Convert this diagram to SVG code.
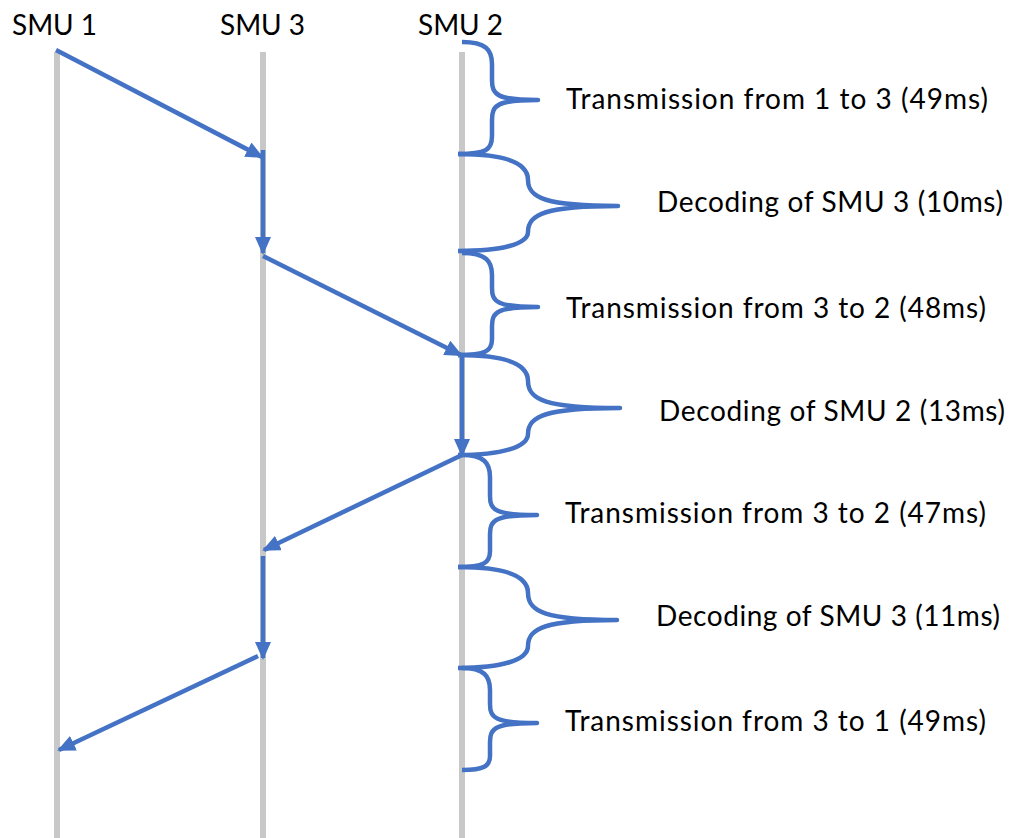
<svg xmlns="http://www.w3.org/2000/svg" width="1011" height="838" viewBox="0 0 1011 838">
<style>
.life{stroke:#c8c8c8;stroke-width:6;fill:none}
.msg{stroke:#4472c4;stroke-width:4.5;fill:none;marker-end:url(#ah)}
.brace{stroke:#4472c4;stroke-width:4.5;fill:none;stroke-linejoin:round}
text{font-family:Lato,"Liberation Sans",Arial,sans-serif;font-size:28px;fill:#000}
</style>
<defs>
<marker id="ah" markerUnits="userSpaceOnUse" markerWidth="18" markerHeight="16" refX="16" refY="8" orient="auto" viewBox="0 0 18 16">
<path d="M0,0 L18,8 L0,16 z" fill="#4472c4"/>
</marker>
</defs>
<rect width="1011" height="838" fill="#fff"/>
<g id="smu1">
<line class="life" x1="57" y1="52" x2="57" y2="838"/>
<text x="12" y="35" textLength="85">SMU 1</text>
</g>
<g id="smu3">
<line class="life" x1="263" y1="52" x2="263" y2="838"/>
<text x="220" y="35" textLength="85">SMU 3</text>
</g>
<g id="smu2">
<line class="life" x1="462" y1="52" x2="462" y2="838"/>
<text x="418" y="35" textLength="85">SMU 2</text>
</g>
<g id="connectors">
<line class="msg" x1="56" y1="50" x2="262" y2="157"/>
<line class="msg" x1="263" y1="150" x2="263" y2="253"/>
<line class="msg" x1="263" y1="256" x2="461" y2="355"/>
<line class="msg" x1="462" y1="356" x2="462" y2="455"/>
<line class="msg" x1="462" y1="455" x2="264" y2="550"/>
<line class="msg" x1="263" y1="556" x2="263" y2="658"/>
<line class="msg" x1="258" y1="656" x2="59" y2="750"/>
</g>
<g id="brace1">
<path class="brace" d="M462,42 C486,42 492,50 492,64 L492,80 C492,95 497,100 538,100 C497,100 492,105 492,120 L492,136 C492,150 486,154 458,154"/>
<text x="566" y="109" textLength="422">Transmission from 1 to 3 (49ms)</text>
</g>
<g id="brace2">
<path class="brace" d="M458,154 C502,154 528,162 528,180 C528,198 546,206 618,206 C546,206 528,214 528,232 C528,244 502,251 458,251"/>
<text x="657" y="212" textLength="346">Decoding of SMU 3 (10ms)</text>
</g>
<g id="brace3">
<path class="brace" d="M462,253 C486,253 492,261 492,275 L492,288 C492,302 497,307 538,307 C497,307 492,312 492,326 L492,339 C492,351 486,355 458,355"/>
<text x="566" y="318" textLength="420">Transmission from 3 to 2 (48ms)</text>
</g>
<g id="brace4">
<path class="brace" d="M458,355 C502,355 528,363 528,381 C528,400 546,408 620,408 C546,408 528,416 528,434 C528,447 502,455 458,455"/>
<text x="659" y="421" textLength="346">Decoding of SMU 2 (13ms)</text>
</g>
<g id="brace5">
<path class="brace" d="M462,455 C484,455 490,463 490,477 L490,496 C490,510 495,515 537,515 C495,515 490,520 490,534 L490,551 C490,563 484,567 458,567"/>
<text x="565" y="523" textLength="421">Transmission from 3 to 2 (47ms)</text>
</g>
<g id="brace6">
<path class="brace" d="M458,567 C502,567 528,575 528,593 C528,612 546,620 617,620 C546,620 528,628 528,646 C528,660 502,668 458,668"/>
<text x="656" y="626" textLength="344">Decoding of SMU 3 (11ms)</text>
</g>
<g id="brace7">
<path class="brace" d="M462,668 C484,668 490,676 490,690 L490,704 C490,718 495,723 537,723 C495,723 490,728 490,742 L490,756 C490,766 484,770 462,770"/>
<text x="565" y="731" textLength="421">Transmission from 3 to 1 (49ms)</text>
</g>
</svg>
